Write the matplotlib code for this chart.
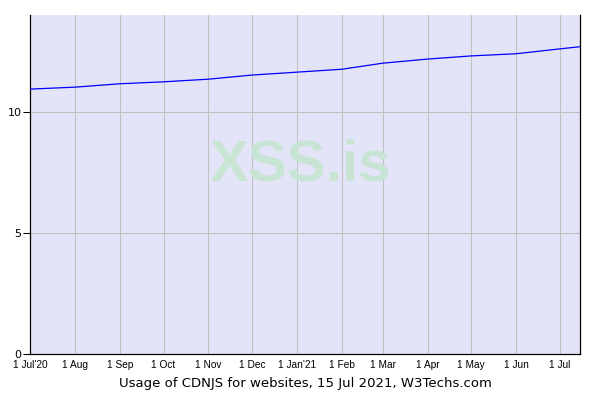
import matplotlib
matplotlib.use("Agg")
import matplotlib.pyplot as plt
import datetime as dt

dates = ["2020-07-01", "2020-08-01", "2020-09-01", "2020-10-01", "2020-11-01",
         "2020-12-01", "2021-01-01", "2021-02-01", "2021-03-01", "2021-04-01",
         "2021-05-01", "2021-06-01", "2021-07-01", "2021-07-15"]
values = [10.94, 11.02, 11.16, 11.24, 11.35, 11.52, 11.64, 11.76, 12.01, 12.18,
          12.31, 12.40, 12.60, 12.69]
tick_dates = ["2020-07-01", "2020-08-01", "2020-09-01", "2020-10-01", "2020-11-01",
              "2020-12-01", "2021-01-01", "2021-02-01", "2021-03-01", "2021-04-01",
              "2021-05-01", "2021-06-01", "2021-07-01"]
tick_labels = ["1 Jul'20", "1 Aug", "1 Sep", "1 Oct", "1 Nov", "1 Dec", "1 Jan'21",
               "1 Feb", "1 Mar", "1 Apr", "1 May", "1 Jun", "1 Jul"]
y_ticks = [0, 5, 10]
title = "Usage of CDNJS for websites, 15 Jul 2021, W3Techs.com"

to_d = lambda s: dt.datetime.strptime(s, "%Y-%m-%d")
x = [to_d(s) for s in dates]
xt = [to_d(s) for s in tick_dates]

fig = plt.figure(figsize=(6, 4), dpi=100)
ax = fig.add_axes([30/600, 46/400, 550/600, 339/400])
ax.set_facecolor("#e4e4f8")
ax.plot(x, values, color="#0000ff", lw=0.9, zorder=3)
ax.set_xlim(x[0], x[-1])
ax.set_ylim(0, 14)
ax.set_xticks(xt)
ax.set_xticklabels(tick_labels, fontsize=7.3, family="Liberation Sans")
ax.set_yticks(y_ticks)
ax.set_yticklabels([str(v) for v in y_ticks], fontsize=8, family="DejaVu Sans")
ax.tick_params(axis="x", length=0, pad=4)
ax.tick_params(axis="y", length=5, width=0.75, pad=1)
ax.grid(True, color="#c0c0c0", lw=0.75, zorder=1)
ax.set_axisbelow(True)
for s in ["left", "bottom", "right"]:
    ax.spines[s].set_color("black")
    ax.spines[s].set_linewidth(0.9)
ax.spines["top"].set_visible(False)

ax.text(0.492, 0.555, "XSS.is", transform=ax.transAxes, ha="center", va="center",
        fontsize=42, fontweight="bold", color="#c8e4d4", family="Liberation Sans", zorder=2)

fig.text(305/600, 1 - 384/400, title, ha="center", va="center", fontsize=9.5,
         family="DejaVu Sans")
fig.savefig("out.png", dpi=100)
